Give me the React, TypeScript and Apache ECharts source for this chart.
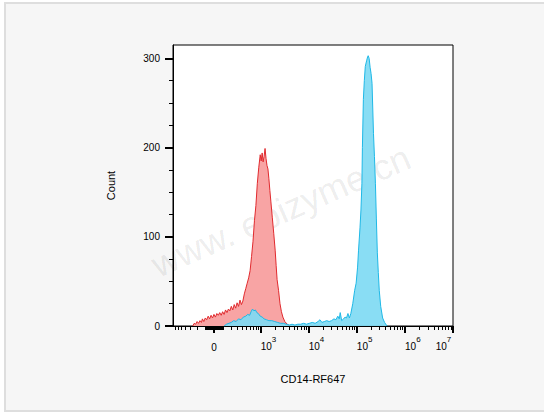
import React, { useEffect, useRef } from "react";
import * as echarts from "echarts";

// Axis ranges (x in logicle display units: decade k sits at k)
const X_MIN = 1.19;
const X_MAX = 7.0;
const Y_MAX = 315;
const LOGICLE_C = 110;

// Tick values (fluorescence intensity) for the logicle x axis
const xMajorValues = [0, 1e3, 1e4, 1e5, 1e6, 1e7];
const xMajorExponents = [null, 3, 4, 5, 6, 7];
const xLinearMinorValues = [
  -700, -600, -500, -400, -300, -200, -100, -90, -80, -70, -60, -50, -40, -30, -20, -10,
  10, 20, 30, 40, 50, 60, 70, 80, 90, 100, 200, 300, 400, 500, 600, 700, 800, 900,
];
const xLogMantissas = [2, 3, 4, 5, 6, 7, 8, 9];
const xLogDecades = [3, 4, 5, 6];

const yMajorTicks = [0, 100, 200, 300];
const yMinorTicks = [25, 50, 75, 125, 150, 175, 225, 250, 275];

// Histogram: unstained / isotype (red) — [logicle position, count]
const redHist: [number, number][] = [
  [1.6, 0], [1.63, 3], [1.66, 2], [1.69, 5], [1.72, 3], [1.75, 6], [1.78, 4], [1.8, 8],
  [1.83, 5], [1.86, 9], [1.89, 7], [1.92, 11], [1.95, 8], [1.98, 12], [2.01, 9], [2.04, 13],
  [2.07, 10], [2.1, 14], [2.13, 12], [2.16, 15], [2.19, 12], [2.22, 16], [2.25, 13], [2.28, 18],
  [2.31, 15], [2.34, 19], [2.37, 17], [2.4, 22], [2.43, 18], [2.46, 24], [2.49, 20], [2.52, 26],
  [2.55, 22], [2.58, 29], [2.61, 24], [2.64, 28], [2.67, 36], [2.7, 42], [2.73, 48], [2.76, 54],
  [2.79, 62], [2.82, 78], [2.85, 95], [2.88, 118], [2.91, 135], [2.94, 160], [2.97, 178],
  [3.0, 192], [3.02, 185], [3.04, 194], [3.06, 184], [3.08, 190], [3.1, 199], [3.12, 188],
  [3.14, 180], [3.16, 176], [3.18, 165], [3.2, 152], [3.22, 140], [3.25, 122], [3.28, 104],
  [3.31, 85], [3.33, 68], [3.35, 52], [3.38, 40], [3.41, 25], [3.44, 16], [3.47, 10],
  [3.51, 5], [3.56, 2], [3.62, 0],
];

// Histogram: CD14-RF647 stained (cyan)
const blueHist: [number, number][] = [
  [2.25, 0], [2.3, 2], [2.35, 3], [2.4, 4], [2.45, 6], [2.5, 5], [2.55, 8], [2.6, 7],
  [2.65, 10], [2.7, 11], [2.74, 13], [2.78, 12], [2.81, 16], [2.84, 19], [2.87, 17], [2.9, 18],
  [2.93, 15], [2.96, 14], [3.0, 11], [3.04, 10], [3.08, 8], [3.13, 7], [3.18, 6], [3.24, 6],
  [3.3, 5], [3.36, 4], [3.42, 3], [3.48, 3], [3.54, 2], [3.6, 1], [3.66, 2], [3.72, 1],
  [3.78, 2], [3.84, 2], [3.9, 3], [3.96, 2], [4.02, 3], [4.08, 4], [4.14, 3], [4.2, 5],
  [4.24, 7], [4.28, 4], [4.33, 5], [4.38, 6], [4.43, 5], [4.48, 6], [4.53, 8], [4.57, 7],
  [4.61, 11], [4.64, 8], [4.66, 15], [4.69, 6], [4.73, 8], [4.76, 10], [4.79, 9], [4.82, 14],
  [4.85, 9], [4.88, 14], [4.92, 25], [4.96, 40], [4.99, 48], [5.02, 66], [5.04, 85],
  [5.07, 110], [5.09, 130], [5.11, 160], [5.12, 200], [5.14, 254], [5.16, 275], [5.18, 291],
  [5.21, 298], [5.23, 302], [5.24, 303], [5.26, 300], [5.28, 290], [5.3, 283], [5.32, 272],
  [5.35, 216], [5.37, 190], [5.39, 160], [5.41, 120], [5.43, 82], [5.45, 60], [5.47, 40],
  [5.5, 22], [5.54, 9], [5.58, 4], [5.63, 0],
];

const X_NAME = "CD14-RF647";
const Y_NAME = "Count";
const WATERMARK = "www. epizyme.cn";

const FONT = '"Liberation Sans", Arial, Helvetica, sans-serif';

function logicle(v: number): number {
  return Math.log10((v + Math.sqrt(v * v + 4 * LOGICLE_C * LOGICLE_C)) / 2);
}

export default function App() {
  const ref = useRef<HTMLDivElement>(null);

  useEffect(() => {
    if (!ref.current) return;
    const chart = echarts.init(ref.current, null, { renderer: "svg" });

    const majorPos = xMajorValues.map(logicle);
    const minorPos: number[] = xLinearMinorValues.map(logicle);
    xLogDecades.forEach((d) => xLogMantissas.forEach((m) => minorPos.push(logicle(m * Math.pow(10, d)))));
    const minorInRange = minorPos.filter((p) => p >= X_MIN && p <= X_MAX);
    // keep the top decade label inside the axis extent
    const labelPos = majorPos.map((p) => Math.min(p, X_MAX));

    const grid = { left: 173, right: 91, top: 45, bottom: 86 };

    chart.setOption({
      animation: false,
      backgroundColor: "transparent",
      textStyle: { fontFamily: FONT },
      grid: {
        ...grid,
        show: true,
        backgroundColor: "#ffffff",
        borderColor: "#000",
        borderWidth: 1,
      },
      graphic: [
        {
          type: "text",
          x: 281,
          y: 211,
          rotation: 0.41,
          z: 0,
          zlevel: 0,
          silent: true,
          style: {
            text: WATERMARK,
            fill: "rgba(0,0,0,0.085)",
            font: `36px ${FONT}`,
            textAlign: "center",
            textVerticalAlign: "middle",
          },
        },
      ],
      xAxis: [
        {
          type: "value",
          min: X_MIN,
          max: X_MAX,
          position: "bottom",
          name: X_NAME,
          nameLocation: "middle",
          nameGap: 47,
          nameTextStyle: { fontSize: 11, color: "#000", fontFamily: FONT },
          axisLine: { show: true, onZero: false, lineStyle: { color: "#000", width: 1 } },
          splitLine: { show: false },
          axisTick: {
            show: true,
            length: 7,
            lineStyle: { color: "#000", width: 2 },
            customValues: labelPos,
          },
          axisLabel: {
            show: true,
            margin: 9,
            showMaxLabel: true,
            showMinLabel: true,
            hideOverlap: false,
            customValues: labelPos,
            color: "#000",
            formatter: (val: number) => {
              let idx = 0;
              let best = Infinity;
              labelPos.forEach((p, i) => {
                const d = Math.abs(p - val);
                if (d < best) {
                  best = d;
                  idx = i;
                }
              });
              const e = xMajorExponents[idx];
              if (e === null) return "{z|0}";
              if (idx === xMajorExponents.length - 1) return `{c|10}{f|${e}}`;
              return `{b|10}{e|${e}}`;
            },
            rich: {
              z: { fontSize: 10, color: "#000", lineHeight: 24, fontFamily: FONT },
              b: { fontSize: 10, color: "#000", padding: [0, 0, 0, 16], fontFamily: FONT },
              c: { fontSize: 10, color: "#000", fontFamily: FONT },
              e: { fontSize: 8, color: "#000", padding: [0, 0, 14, 0], fontFamily: FONT },
              f: { fontSize: 8, color: "#000", padding: [0, 19, 14, 0], fontFamily: FONT },
            },
          },
        },
        {
          type: "value",
          min: X_MIN,
          max: X_MAX,
          position: "bottom",
          axisLine: { show: false, onZero: false },
          splitLine: { show: false },
          axisLabel: { show: false },
          axisTick: {
            show: true,
            length: 4,
            lineStyle: { color: "#000", width: 1 },
            customValues: minorInRange,
          },
        },
      ],
      yAxis: [
        {
          type: "value",
          min: 0,
          max: Y_MAX,
          position: "left",
          name: Y_NAME,
          nameLocation: "middle",
          nameGap: 57,
          nameTextStyle: { fontSize: 11, color: "#000", fontFamily: FONT },
          axisLine: { show: true, onZero: false, lineStyle: { color: "#000", width: 1 } },
          splitLine: { show: false },
          axisTick: {
            show: true,
            length: 8,
            lineStyle: { color: "#000", width: 2 },
            customValues: yMajorTicks,
          },
          axisLabel: {
            show: true,
            margin: 13,
            fontSize: 10,
            color: "#000",
            customValues: yMajorTicks,
          },
        },
        {
          type: "value",
          min: 0,
          max: Y_MAX,
          position: "left",
          axisLine: { show: false, onZero: false },
          splitLine: { show: false },
          axisLabel: { show: false },
          axisTick: {
            show: true,
            length: 4,
            lineStyle: { color: "#000", width: 1 },
            customValues: yMinorTicks,
          },
        },
      ],
      series: [
        {
          type: "line",
          name: "control",
          xAxisIndex: 0,
          yAxisIndex: 0,
          data: redHist,
          symbol: "none",
          smooth: false,
          lineStyle: { color: "#e02a2e", width: 1 },
          areaStyle: { color: "#f8a4a4", opacity: 1 },
          z: 2,
        },
        {
          type: "line",
          name: "CD14",
          xAxisIndex: 0,
          yAxisIndex: 0,
          data: blueHist,
          symbol: "none",
          smooth: false,
          lineStyle: { color: "#1fb8e6", width: 1 },
          areaStyle: { color: "#7fdaf3", opacity: 0.92 },
          z: 3,
        },
      ],
    });

    return () => chart.dispose();
  }, []);

  return (
    <div
      style={{
        position: "fixed",
        left: 0,
        top: 0,
        width: 544,
        height: 412,
        background: "#ffffff",
        overflow: "hidden",
      }}
    >
      <div
        style={{
          position: "absolute",
          left: 4,
          top: 2,
          width: 560,
          height: 410,
          boxSizing: "border-box",
          border: "2px solid #dedede",
          background: "#f6f6f6",
        }}
      />
      <div ref={ref} style={{ position: "absolute", left: 0, top: 0, width: 544, height: 412 }} />
    </div>
  );
}
